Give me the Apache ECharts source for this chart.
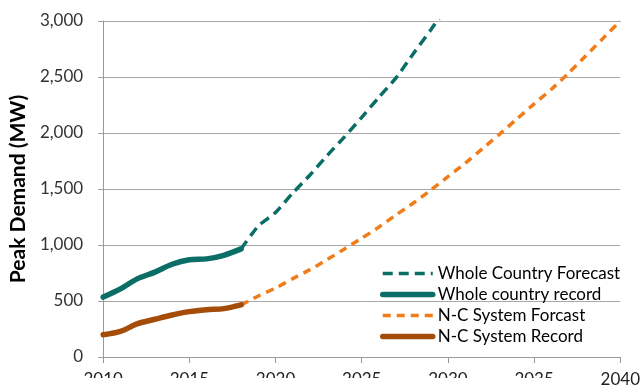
<!DOCTYPE html>
<html>
<head>
<meta charset="utf-8">
<script src="https://cdn.jsdelivr.net/npm/echarts@6/dist/echarts.min.js"></script>
<style>
  html, body { margin: 0; padding: 0; background: #fff; }
  #chart { width: 643px; height: 389px; }
</style>
</head>
<body>
<div id="chart"></div>
<script>
// Peak demand (MW): recorded values and forecasts
const recordYears = [2010, 2011, 2012, 2013, 2014, 2015, 2016, 2017, 2018];
const wholeRecord = [535, 608, 700, 758, 828, 868, 876, 908, 965];
const ncRecord    = [198, 228, 298, 337, 375, 405, 422, 432, 465];

const wholeForecastYears = [2018, 2019, 2020, 2021, 2022, 2023, 2024, 2025, 2026, 2027, 2028, 2029, 2030];
const wholeForecast      = [965, 1170, 1290, 1465, 1625, 1800, 1965, 2140, 2320, 2495, 2710, 2920, 3140];

const ncForecastYears = [2018, 2019, 2020, 2021, 2022, 2023, 2024, 2025, 2026, 2027, 2028, 2029,
                         2030, 2031, 2032, 2033, 2034, 2035, 2036, 2037, 2038, 2039, 2040];
const ncForecast      = [465, 545, 615, 700, 780, 870, 965, 1060, 1160, 1270, 1375, 1490,
                         1610, 1730, 1860, 1990, 2125, 2260, 2390, 2535, 2690, 2845, 3000];

const xTicks = [2010, 2015, 2020, 2025, 2030, 2035, 2040];
const yTicks = [0, 500, 1000, 1500, 2000, 2500, 3000];

const pairs = (xs, ys) => xs.map((x, i) => [x, ys[i]]);

const TEAL = '#0b6e66';
const ORANGE = '#f07c1a';
const BROWN = '#a44c08';
const FONT = 'Lato, "Open Sans", sans-serif';

const DASH_TEAL = [10, 6];
const DASH_ORANGE = [8, 6];

const chart = echarts.init(document.getElementById('chart'), null, { renderer: 'canvas' });

chart.setOption({
  animation: false,
  backgroundColor: '#fff',
  grid: { left: 100, right: 21, top: 21, bottom: 32, containLabel: false },
  legend: {
    orient: 'vertical',
    left: 375,
    top: 260,
    itemWidth: 50,
    itemHeight: 14,
    itemGap: 4,
    itemStyle: { opacity: 0 },
    textStyle: { fontFamily: FONT, fontSize: 17, lineHeight: 16, color: '#000' },
    data: [
      { name: 'Whole Country Forecast', lineStyle: { width: 3.5, type: DASH_TEAL, color: TEAL } },
      { name: 'Whole country record', lineStyle: { width: 5.5, type: 'solid', color: TEAL } },
      { name: 'N-C System Forcast', lineStyle: { width: 3.5, type: DASH_ORANGE, color: ORANGE } },
      { name: 'N-C System Record', lineStyle: { width: 5.5, type: 'solid', color: BROWN } }
    ]
  },
  xAxis: {
    type: 'value',
    min: xTicks[0],
    max: xTicks[xTicks.length - 1],
    interval: 5,
    axisLine: { show: true, lineStyle: { color: '#9a9a9a', width: 1 } },
    axisTick: { show: true, length: 6, lineStyle: { color: '#9a9a9a' } },
    splitLine: { show: false },
    axisLabel: {
      margin: 14,
      fontFamily: FONT,
      fontSize: 17,
      color: '#222',
      formatter: v => String(v)
    }
  },
  yAxis: {
    type: 'value',
    min: yTicks[0],
    max: yTicks[yTicks.length - 1],
    interval: 500,
    name: 'Peak Demand (MW)',
    nameLocation: 'middle',
    nameGap: 74,
    nameTextStyle: { fontFamily: FONT, fontSize: 21, fontWeight: 'bold', color: '#000' },
    axisLine: { show: true, lineStyle: { color: '#9a9a9a', width: 1 } },
    axisTick: { show: true, length: 5, lineStyle: { color: '#9a9a9a' } },
    splitLine: { show: true, lineStyle: { color: '#a8a8a8', width: 1 } },
    axisLabel: {
      margin: 20,
      fontFamily: FONT,
      fontSize: 17,
      color: '#333',
      formatter: v => v.toLocaleString('en-US')
    }
  },
  series: [
    {
      name: 'Whole Country Forecast',
      type: 'line',
      data: pairs(wholeForecastYears, wholeForecast),
      symbol: 'none',
      smooth: 0.2,
      clip: true,
      lineStyle: { color: TEAL, width: 3.5, type: DASH_TEAL },
      itemStyle: { color: TEAL },
      z: 2
    },
    {
      name: 'Whole country record',
      type: 'line',
      data: pairs(recordYears, wholeRecord),
      symbol: 'none',
      smooth: 0.3,
      lineStyle: { color: TEAL, width: 5.5, cap: 'round' },
      itemStyle: { color: TEAL },
      z: 3
    },
    {
      name: 'N-C System Forcast',
      type: 'line',
      data: pairs(ncForecastYears, ncForecast),
      symbol: 'none',
      smooth: 0.2,
      clip: true,
      lineStyle: { color: ORANGE, width: 3.5, type: DASH_ORANGE },
      itemStyle: { color: ORANGE },
      z: 2
    },
    {
      name: 'N-C System Record',
      type: 'line',
      data: pairs(recordYears, ncRecord),
      symbol: 'none',
      smooth: 0.3,
      lineStyle: { color: BROWN, width: 5.5, cap: 'round' },
      itemStyle: { color: BROWN },
      z: 3
    }
  ],
  graphic: [
    // white band trimming the lower part of the year labels along the bottom edge
    {
      type: 'rect',
      left: 0,
      top: 378,
      shape: { width: 598, height: 11 },
      style: { fill: '#fff' },
      z: 100
    }
  ]
});
</script>
</body>
</html>
